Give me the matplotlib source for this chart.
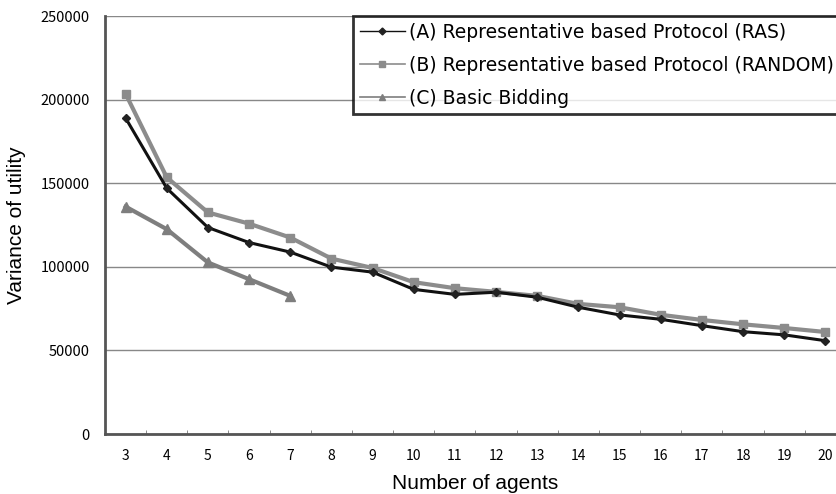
import matplotlib
matplotlib.use("Agg")
import matplotlib.pyplot as plt
from matplotlib.ticker import FixedLocator
from matplotlib.lines import Line2D
import numpy as np

agents = [3, 4, 5, 6, 7, 8, 9, 10, 11, 12, 13, 14, 15, 16, 17, 18, 19, 20]
ras = [189000, 147000, 123500, 114500, 108800, 99800, 96800, 86500, 83500,
       84800, 81800, 75800, 71200, 68600, 64800, 61200, 59300, 55800]
random_ = [203500, 153500, 132500, 125800, 117500, 104900, 99300, 90800, 87200,
           85000, 82600, 77800, 75800, 71300, 68200, 65600, 63400, 61000]
basic_agents = [3, 4, 5, 6, 7]
basic = [136000, 122500, 102600, 92600, 82600]

labels = ["(A) Representative based Protocol (RAS)",
          "(B) Representative based Protocol (RANDOM)",
          "(C) Basic Bidding"]
yticks = [0, 50000, 100000, 150000, 200000, 250000]

fig = plt.figure(figsize=(8.36, 4.94), dpi=100)
ax = fig.add_axes([105/836, 1-434/494, 741/836, 418/494])

pos = {a: i for i, a in enumerate(agents)}
xa = [pos[a] for a in agents]
xb = [pos[a] for a in basic_agents]

ax.plot(xa, ras, color="#111111", lw=2.2, marker="D", ms=4.5,
        mfc="#222222", mec="#222222", zorder=5)
ax.plot(xa, random_, color="#8c8c8c", lw=3, marker="s", ms=6,
        mfc="#8c8c8c", mec="#8c8c8c", zorder=4)
ax.plot(xb, basic, color="#7e7e7e", lw=3, marker="^", ms=6.5,
        mfc="#7e7e7e", mec="#7e7e7e", zorder=4)

ax.set_xlim(-0.5, len(agents) - 0.5)
ax.set_ylim(0, 250000)
ax.set_xticks(xa)
ax.set_xticklabels([str(a) for a in agents], fontsize=10,
                   family=["Noto Sans CJK JP", "DejaVu Sans"])
ax.xaxis.set_minor_locator(FixedLocator(np.arange(-0.5, len(agents), 1.0)))
ax.tick_params(axis="x", which="major", length=0, pad=11)
ax.tick_params(axis="x", which="minor", direction="in", length=3, color="#777777")
ax.set_yticks(yticks)
ax.set_yticklabels([str(v) for v in yticks], fontsize=10.5,
                   family=["Noto Sans CJK JP", "DejaVu Sans"])
ax.tick_params(axis="y", length=0, pad=11)

ax.grid(axis="y", color="#888888", lw=1.0)
ax.set_axisbelow(True)
for s in ["top", "right"]:
    ax.spines[s].set_visible(False)
for s in ["left", "bottom"]:
    ax.spines[s].set_color("#555555")
    ax.spines[s].set_linewidth(2)

ax.set_ylabel("Variance of utility", fontsize=15, family="Liberation Sans", labelpad=10)
ax.set_xlabel("Number of agents", fontsize=15, family="Liberation Sans", labelpad=8)

h1 = Line2D([], [], color="#111111", lw=1, marker="D", ms=3.5, mfc="#222222", mec="#222222")
h2 = Line2D([], [], color="#8c8c8c", lw=1.2, marker="s", ms=4.5, mfc="#8c8c8c", mec="#8c8c8c")
h3 = Line2D([], [], color="#7e7e7e", lw=1.2, marker="^", ms=5, mfc="#7e7e7e", mec="#7e7e7e")
leg = fig.legend([h1, h2, h3], labels, loc="upper left",
                 bbox_to_anchor=(353/836, 1-16/494), frameon=True, fancybox=False,
                 prop={"family": ["DejaVu Sans"], "size": 13.5},
                 handlelength=2.4, handletextpad=0.25, labelspacing=0.75,
                 borderpad=0.35, borderaxespad=0)
leg.get_frame().set_edgecolor("black")
leg.get_frame().set_linewidth(2)
leg.set_zorder(10)

fig.savefig("out.png", dpi=100)
